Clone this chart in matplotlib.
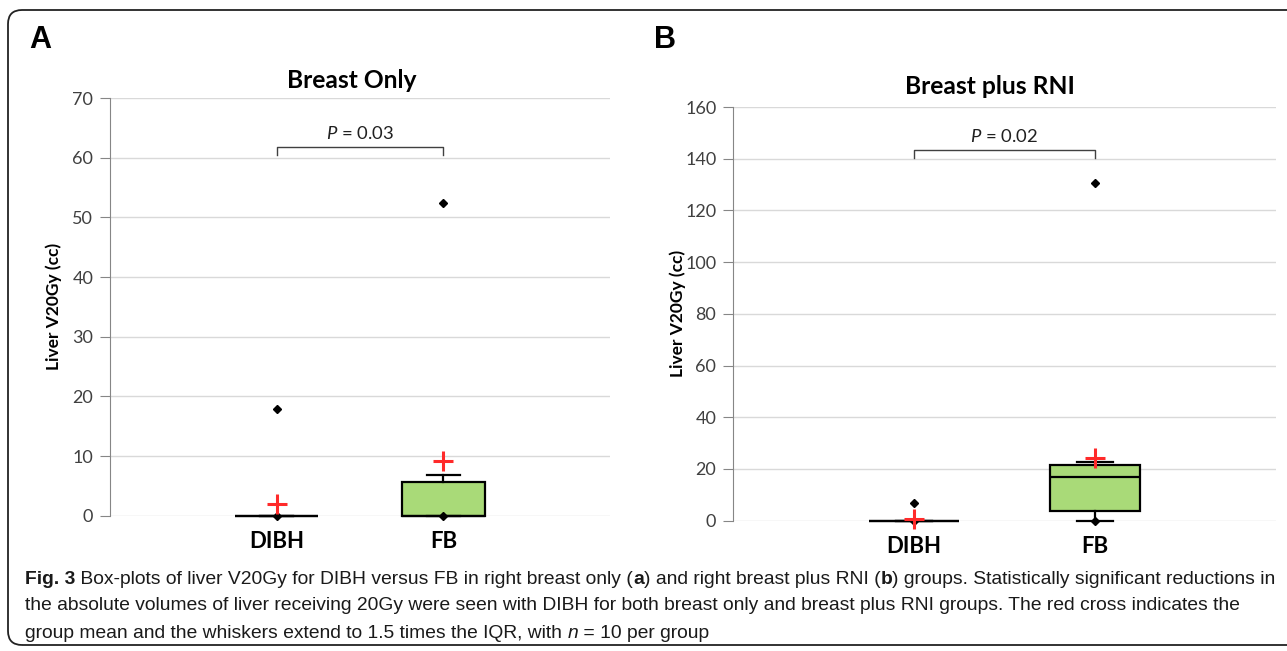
import matplotlib
matplotlib.use("Agg")
import matplotlib.pyplot as plt
from matplotlib.patches import FancyBboxPatch
from matplotlib.transforms import IdentityTransform

# --- データ ---
categories = ["DIBH", "FB"]

# A: Breast Only
a_q1 = [0.0, 0.0]
a_med = [0.0, 0.0]
a_q3 = [0.0, 5.6]
a_whislo = [0.0, 0.0]
a_whishi = [0.0, 6.9]
a_mean = [1.9, 9.2]
a_fliers = [[17.8], [52.4]]
a_yticks = [0, 10, 20, 30, 40, 50, 60, 70]
a_p = "0.03"
a_bracket = [61.8, 60.4, 64.0]   # bracket top, tick end, label

# B: Breast plus RNI
b_q1 = [0.0, 3.9]
b_med = [0.0, 16.9]
b_q3 = [0.0, 21.7]
b_whislo = [0.0, 0.0]
b_whishi = [0.0, 22.7]
b_mean = [0.5, 24.4]
b_fliers = [[7.0], [130.7]]
b_yticks = [0, 20, 40, 60, 80, 100, 120, 140, 160]
b_p = "0.02"
b_bracket = [143.4, 140.3, 148.4]

FONT = ["Lato", "DejaVu Sans"]
CAP_FONT = ["Liberation Sans Narrow", "DejaVu Sans Condensed", "Liberation Sans"]
GREEN = "#a9da78"

plt.rcParams["font.family"] = FONT
plt.rcParams["mathtext.fontset"] = "custom"
plt.rcParams["mathtext.rm"] = "Lato"
plt.rcParams["mathtext.it"] = "Lato:italic"

fig = plt.figure(figsize=(12.87, 6.51), dpi=100)


def draw_panel(ax, q1, med, q3, wlo, whi, mean, fliers, yticks, p, bracket, title_xy, title,
               label_x):
    stats = []
    for i in range(len(categories)):
        stats.append(dict(q1=q1[i], med=med[i], q3=q3[i], whislo=wlo[i], whishi=whi[i],
                          fliers=fliers[i], mean=mean[i], label=categories[i]))
    pos = [1, 2]
    art = ax.bxp(stats, positions=pos, widths=0.5, capwidths=0.2, patch_artist=True,
                 showmeans=True, showfliers=True,
                 boxprops=dict(facecolor=GREEN, edgecolor="black", linewidth=1.6),
                 medianprops=dict(color="black", linewidth=1.6),
                 whiskerprops=dict(color="black", linewidth=1.6),
                 capprops=dict(color="black", linewidth=1.6),
                 flierprops=dict(marker="D", markersize=4, markerfacecolor="black",
                                 markeredgecolor="black"),
                 meanprops=dict(marker="+", markersize=15, markeredgewidth=2.2,
                                markeredgecolor="#ff2a2a"))
    for group in art.values():
        for a in group:
            a.set_clip_on(False)
    # 最小値の点
    ax.plot(pos, wlo, linestyle="none", marker="D", markersize=4, color="black",
            clip_on=False, zorder=5)
    # 平均値は前面に
    for m in art["means"]:
        m.set_zorder(6)

    ax.set_xlim(0, 3)
    ax.set_ylim(yticks[0], yticks[-1])
    ax.set_yticks(yticks)
    ax.set_xticks(pos)
    ax.set_xticklabels(categories, fontsize=16, fontweight="bold")
    ax.tick_params(axis="x", length=0, pad=11)
    ax.tick_params(axis="y", length=7, color="#868686", labelsize=13,
                   labelcolor="#404040", pad=5)
    ax.grid(axis="y", color="#d9d9d9", linewidth=1)
    ax.set_axisbelow(True)
    for s in ["top", "right", "bottom"]:
        ax.spines[s].set_visible(False)
    ax.spines["left"].set_color("#868686")
    ax.set_ylabel("Liver V20Gy (cc)", fontsize=12.5, fontweight="bold")
    ax.yaxis.set_label_coords(label_x, 0.5)

    # P値のブラケット
    top, tick, lab = bracket
    ax.plot([1, 1, 2, 2], [tick, top, top, tick], color="#404040", linewidth=1,
            clip_on=False)
    ax.text(1.5, lab, r"$\it{P}$ = " + p, ha="center", va="center", fontsize=13.3,
            color="#202020")

    fig.text(title_xy[0] / 1287, 1 - title_xy[1] / 651, title, ha="center", va="center",
             fontsize=17.7, fontweight="bold")


ax_a = fig.add_axes([110 / 1287, 1 - 515.7 / 651, 500 / 1287, (515.7 - 98) / 651])
draw_panel(ax_a, a_q1, a_med, a_q3, a_whislo, a_whishi, a_mean, a_fliers, a_yticks,
           a_p, a_bracket, (352, 80), "Breast Only", -48 / 500)

ax_b = fig.add_axes([733 / 1287, 1 - 520.7 / 651, 543 / 1287, (520.7 - 107) / 651])
draw_panel(ax_b, b_q1, b_med, b_q3, b_whislo, b_whishi, b_mean, b_fliers, b_yticks,
           b_p, b_bracket, (990, 86), "Breast plus RNI", -47 / 543)

fig.text(40 / 1287, 1 - 40 / 651, "A", ha="center", va="center", fontsize=22,
         fontweight="bold", family=["Liberation Sans", "DejaVu Sans"])
fig.text(665 / 1287, 1 - 40 / 651, "B", ha="center", va="center", fontsize=22,
         fontweight="bold", family=["Liberation Sans", "DejaVu Sans"])

# 外枠
frame = FancyBboxPatch((8, 6), 1300, 635, boxstyle="round,pad=0,rounding_size=14",
                       transform=IdentityTransform(), facecolor="none",
                       edgecolor="#222222", linewidth=1.3)
fig.patches.append(frame)

# キャプション
cap_lines = [
    [("Fig. 3", "bold", "normal"),
     (" Box-plots of liver V20Gy for DIBH versus FB in right breast only (", "normal", "normal"),
     ("a", "bold", "normal"),
     (") and right breast plus RNI (", "normal", "normal"),
     ("b", "bold", "normal"),
     (") groups. Statistically significant reductions in", "normal", "normal")],
    [("the absolute volumes of liver receiving 20Gy were seen with DIBH for both breast only "
      "and breast plus RNI groups. The red cross indicates the", "normal", "normal")],
    [("group mean and the whiskers extend to 1.5 times the IQR, with ", "normal", "normal"),
     ("n", "normal", "italic"),
     (" = 10 per group", "normal", "normal")],
]
cap_y = [651 - 579, 651 - 605, 651 - 633]

renderer = fig.canvas.get_renderer()


def run_width(runs, size):
    w = 0
    for s, wt, st in runs:
        t = fig.text(0, 0, s, fontsize=size, fontweight=wt, fontstyle=st, family=CAP_FONT,
                     transform=IdentityTransform())
        w += t.get_window_extent(renderer).width
        t.remove()
    return w


# 2行目の幅に合わせてフォントサイズを決める
cap_size = 10 * (1245 - 25) / run_width(cap_lines[1], 10)

for runs, y in zip(cap_lines, cap_y):
    x = 25
    for s, wt, st in runs:
        t = fig.text(x, y, s, fontsize=cap_size, fontweight=wt, fontstyle=st,
                     family=CAP_FONT, va="center", color="#1a1a1a",
                     transform=IdentityTransform())
        x += t.get_window_extent(renderer).width

fig.savefig("out.png", dpi=100)
